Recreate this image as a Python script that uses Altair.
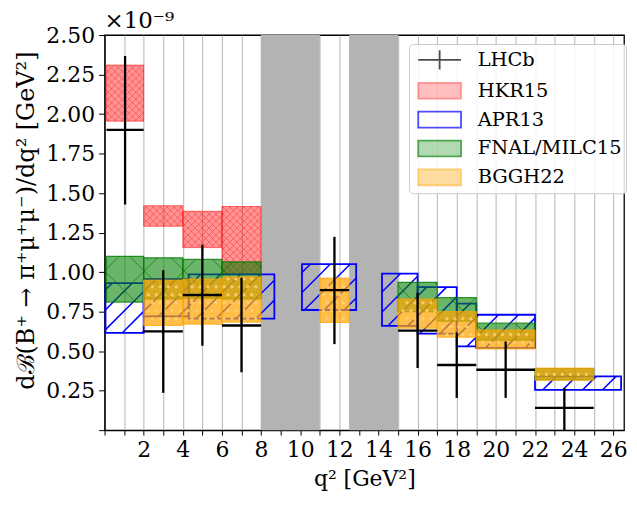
import altair as alt
import pandas as pd
import numpy as np

# ---------------- data (values in units of 1e-9 GeV^-2) ----------------
hkr_x0 = [0.1, 2, 4, 6]
hkr_x1 = [2, 4, 6, 8]
hkr_lo = [1.955, 1.29, 1.155, 0.99]
hkr_hi = [2.31, 1.42, 1.385, 1.415]

apr_x0 = [0.05, 2, 4.3, 10.09, 14.18, 16, 18, 19, 22]
apr_x1 = [2, 4.3, 8.68, 12.86, 16, 18, 19, 22, 26.4]
apr_lo = [0.615, 0.72, 0.705, 0.76, 0.66, 0.61, 0.53, 0.52, 0.255]
apr_hi = [0.93, 0.955, 0.985, 1.05, 0.99, 0.905, 0.80, 0.73, 0.34]

fnal_x0 = [0.1, 2, 4, 6, 15, 17, 19, 22]
fnal_x1 = [2, 4, 6, 8, 17, 19, 22, 25]
fnal_lo = [0.81, 0.83, 0.835, 0.83, 0.75, 0.69, 0.57, 0.32]
fnal_hi = [1.10, 1.09, 1.08, 1.065, 0.935, 0.838, 0.677, 0.39]

bggh_x0 = [2, 4, 6, 11, 15, 17, 19, 22]
bggh_x1 = [4, 6, 8, 12.5, 17, 19, 22, 25]
bggh_lo = [0.662, 0.67, 0.683, 0.681, 0.645, 0.588, 0.513, 0.315]
bggh_hi = [0.95, 0.956, 0.97, 0.962, 0.83, 0.75, 0.634, 0.393]

lhcb_x0 = [0.1, 2, 4, 6, 11, 15, 17, 19, 22]
lhcb_x1 = [2, 4, 6, 8, 12.5, 17, 19, 22, 25]
lhcb_y = [1.90, 0.625, 0.855, 0.662, 0.886, 0.630, 0.412, 0.382, 0.141]
lhcb_lo = [1.428, 0.236, 0.534, 0.366, 0.544, 0.393, 0.204, 0.204, 0.0]
lhcb_hi = [2.367, 1.012, 1.174, 0.964, 1.223, 0.870, 0.618, 0.561, 0.267]

veto_x0 = [8, 12.5]
veto_x1 = [11, 15]

legend_labels = ["LHCb", "HKR15", "APR13", "FNAL/MILC15", "BGGH22"]

# ---------------- layout ----------------
XMAX = 26.55
YMAX = 2.5
W, H = 522, 397
SX = W / XMAX
SY = H / YMAX
FONT = "DejaVu Serif"


def boxes(x0, x1, lo, hi):
    return pd.DataFrame({"x0": x0, "x1": x1, "lo": lo, "hi": hi})


def hatch(x0s, x1s, los, his, spacing, directions):
    rows = []
    for x0, x1, lo, hi in zip(x0s, x1s, los, his):
        X0, X1, Y0, Y1 = x0 * SX, x1 * SX, lo * SY, hi * SY
        for d in directions:
            if d > 0:
                kmin = int(np.ceil((X0 - Y1) / spacing))
                kmax = int(np.floor((X1 - Y0) / spacing))
                for k in range(kmin, kmax + 1):
                    c = k * spacing
                    xa, xb = max(X0, Y0 + c), min(X1, Y1 + c)
                    if xb - xa > 0.5:
                        rows.append((xa / SX, (xa - c) / SY, xb / SX, (xb - c) / SY))
            else:
                kmin = int(np.ceil((X0 + Y0) / spacing))
                kmax = int(np.floor((X1 + Y1) / spacing))
                for k in range(kmin, kmax + 1):
                    c = k * spacing
                    xa, xb = max(X0, c - Y1), min(X1, c - Y0)
                    if xb - xa > 0.5:
                        rows.append((xa / SX, (c - xa) / SY, xb / SX, (c - xb) / SY))
    return pd.DataFrame(rows, columns=["xa", "ya", "xb", "yb"])


def dots(x0s, x1s, los, his, spacing):
    rows = []
    for x0, x1, lo, hi in zip(x0s, x1s, los, his):
        X0, X1, Y0, Y1 = x0 * SX, x1 * SX, lo * SY, hi * SY
        j0, j1 = int(np.ceil(Y0 / spacing - 0.3)), int(np.floor(Y1 / spacing + 0.3))
        for j in range(j0, j1 + 1):
            Y = j * spacing
            if not (Y0 + 2 <= Y <= Y1 - 2):
                continue
            shift = (spacing / 2) * (j % 2)
            i0, i1 = int(np.ceil((X0 - shift) / spacing)), int(np.floor((X1 - shift) / spacing))
            for i in range(i0, i1 + 1):
                X = i * spacing + shift
                if X0 + 2 <= X <= X1 - 2:
                    rows.append((X / SX, Y / SY))
    return pd.DataFrame(rows, columns=["xd", "yd"])


xs = alt.Scale(domain=[0, XMAX], nice=False, zero=False)
ys = alt.Scale(domain=[0, YMAX], nice=False, zero=False)

xaxis = alt.Axis(
    values=list(range(0, 27)),
    labelExpr="datum.value % 2 == 0 && datum.value > 0 ? format(datum.value, 'd') : ''",
    title="q² [GeV²]",
)
yaxis = alt.Axis(
    values=[0.25 * i for i in range(0, 11)],
    labelExpr="datum.value > 0 ? format(datum.value, '.2f') : ''",
    title="dℬ(B⁺ → π⁺μ⁺μ⁻)/dq² [GeV²]",
    titleY=186,
)


def X(f):
    return alt.X(f, scale=xs, axis=xaxis)


def Y(f):
    return alt.Y(f, scale=ys, axis=yaxis)


def rect_layer(df, **mk):
    return alt.Chart(df).mark_rect(**mk).encode(
        x=X("x0:Q"), x2="x1:Q", y=Y("lo:Q"), y2="hi:Q"
    )


def hatch_layer(df, **mk):
    return alt.Chart(df).mark_rule(**mk).encode(
        x=X("xa:Q"), y=Y("ya:Q"), x2="xb:Q", y2="yb:Q"
    )


bands = alt.Chart(pd.DataFrame({"x0": veto_x0, "x1": veto_x1})).mark_rect(
    color="#b3b3b3"
).encode(
    x=X("x0:Q"), x2="x1:Q",
    y=alt.Y(datum=0, type="quantitative", scale=ys, axis=yaxis),
    y2=alt.Y2(datum=YMAX),
)

hkr = rect_layer(boxes(hkr_x0, hkr_x1, hkr_lo, hkr_hi),
                 fill="red", fillOpacity=0.42, stroke="red", strokeOpacity=0.5, strokeWidth=1)
hkr_h = hatch_layer(hatch(hkr_x0, hkr_x1, hkr_lo, hkr_hi, 7, [1, -1]),
                    color="red", opacity=0.45, strokeWidth=0.8)

apr = rect_layer(boxes(apr_x0, apr_x1, apr_lo, apr_hi),
                 fill="transparent", stroke="blue", strokeWidth=1.8)
apr_h = hatch_layer(hatch(apr_x0, apr_x1, apr_lo, apr_hi, 20, [1]),
                    color="blue", strokeWidth=1.5)

fnal = rect_layer(boxes(fnal_x0, fnal_x1, fnal_lo, fnal_hi),
                  fill="green", fillOpacity=0.58, stroke="green", strokeOpacity=0.8, strokeWidth=1.2)
fnal_h = hatch_layer(hatch(fnal_x0, fnal_x1, fnal_lo, fnal_hi, 40, [1, -1]),
                     color="#006400", opacity=0.6, strokeWidth=1)

bggh = rect_layer(boxes(bggh_x0, bggh_x1, bggh_lo, bggh_hi),
                  fill="#ffa500", fillOpacity=0.72, stroke="#ffa500", strokeOpacity=0.75, strokeWidth=1)
bggh_d = alt.Chart(dots(bggh_x0, bggh_x1, bggh_lo, bggh_hi, 8)).mark_point(
    filled=True, size=12, color="#ffd27a", opacity=0.8
).encode(x=X("xd:Q"), y=Y("yd:Q"))

lhcb_df = pd.DataFrame({"x0": lhcb_x0, "x1": lhcb_x1, "y": lhcb_y, "lo": lhcb_lo, "hi": lhcb_hi})
lhcb_df["xc"] = (lhcb_df["x0"] + lhcb_df["x1"]) / 2
lhcb_v = alt.Chart(lhcb_df).mark_rule(color="black", strokeWidth=2.3).encode(
    x=X("xc:Q"), y=Y("lo:Q"), y2="hi:Q"
)
lhcb_hbar = alt.Chart(lhcb_df).mark_rule(color="black", strokeWidth=2.3).encode(
    x=X("x0:Q"), x2="x1:Q", y=Y("y:Q")
)

rect_path = "M-0.63,-0.74H3.37V0.74H-0.63Z"
cross_path = "M-0.63,0H3.37M1.37,-0.9V0.9"
leg = alt.Legend(
    title=None, orient="none", legendX=306, legendY=9,
    fillColor="rgba(255,255,255,0.85)", strokeColor="#cccccc", cornerRadius=4,
    padding=4, labelFont=FONT, labelFontSize=19.5, labelColor="black",
    symbolSize=462, symbolStrokeWidth=1.8, rowPadding=5, labelOffset=41,
)
leg_layer = alt.Chart(pd.DataFrame({"model": legend_labels})).transform_filter("false").mark_point().encode(
    shape=alt.Shape("model:N", scale=alt.Scale(domain=legend_labels,
                    range=[cross_path, rect_path, rect_path, rect_path, rect_path]), legend=leg),
    fill=alt.Fill("model:N", scale=alt.Scale(domain=legend_labels,
                  range=["transparent", "rgba(255,0,0,0.5)", "transparent", "rgba(0,128,0,0.6)", "rgba(255,165,0,0.75)"]), legend=leg),
    stroke=alt.Stroke("model:N", scale=alt.Scale(domain=legend_labels,
                      range=["black", "rgba(255,0,0,0.5)", "blue", "green", "rgba(255,165,0,0.75)"]), legend=leg),
)

chart = alt.layer(
    bands, hkr, hkr_h, apr, apr_h, fnal, fnal_h, bggh, bggh_d, lhcb_v, lhcb_hbar, leg_layer
).properties(
    width=W, height=H,
    autosize=alt.AutoSizeParams(type="none"),
    padding={"left": 97, "top": 26, "right": 5, "bottom": 60},
    title=alt.TitleParams("×10⁻⁹", anchor="start", frame="group", font=FONT, fontSize=23,
                          fontWeight="normal", offset=0, dy=9, color="black"),
).configure_view(
    stroke="black", strokeWidth=1.3
).configure_axis(
    labelFont=FONT, titleFont=FONT, labelFontSize=22, titleFontSize=22,
    labelColor="black", titleColor="black", titleFontWeight="normal",
    domainColor="black", domainWidth=1.3, tickColor="black", tickWidth=1,
    gridColor="#b0b0b0", gridWidth=1.2, gridOpacity=0.8,
).configure_axisX(
    tickSize=5, labelPadding=5, titlePadding=8
).configure_axisY(
    tickSize=6, labelPadding=4, titlePadding=7, titleFontSize=24
)

chart.save("out.html", embed_options={"renderer": "svg", "actions": False})
